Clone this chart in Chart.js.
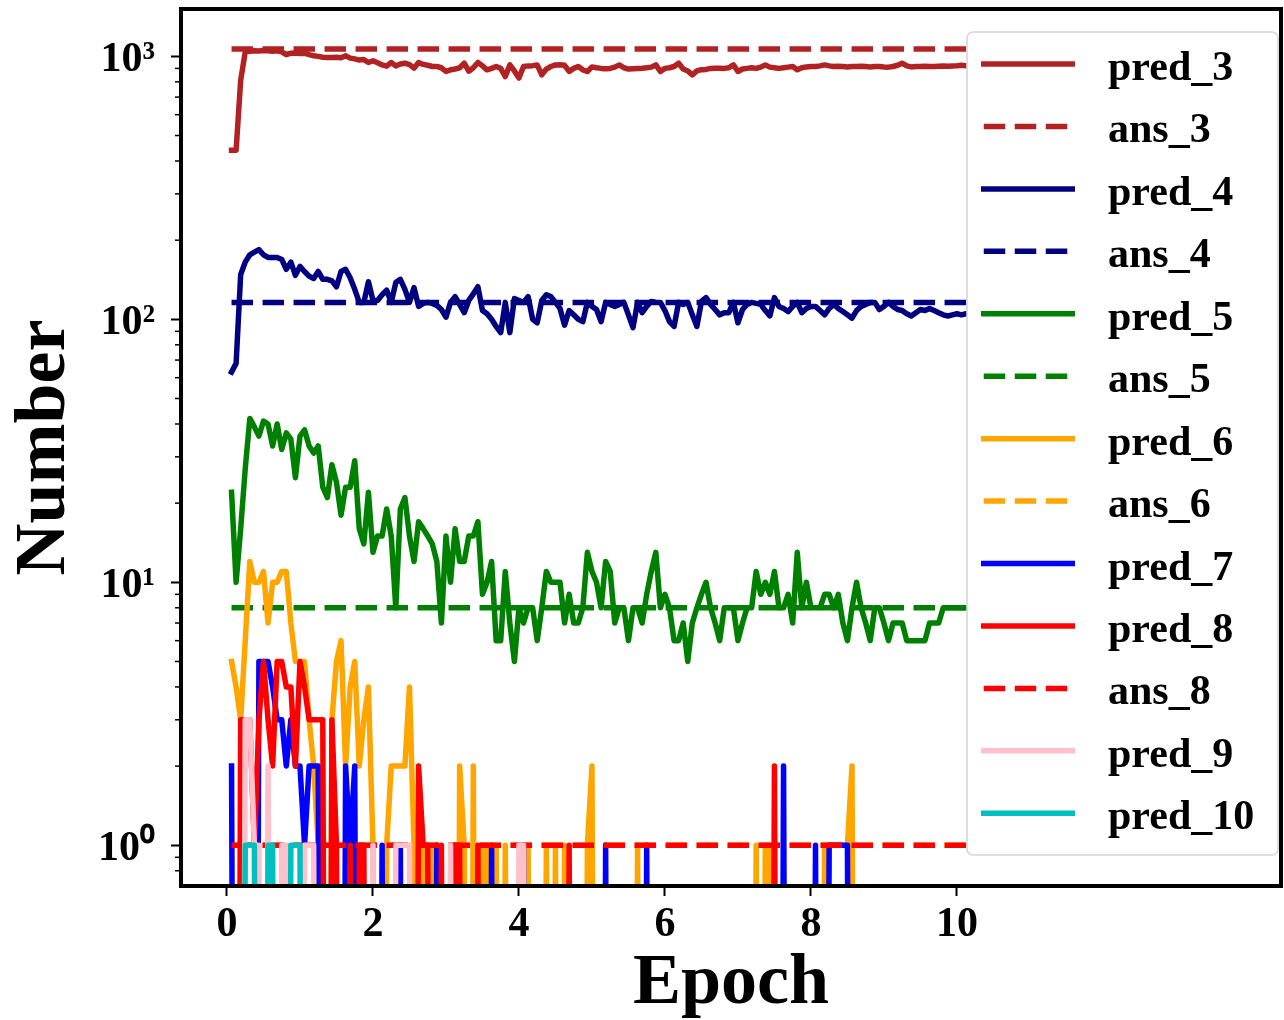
<!DOCTYPE html>
<html>
<head>
<meta charset="utf-8">
<script src="https://cdn.jsdelivr.net/npm/chart.js@4.4.1/dist/chart.umd.min.js"></script>
<style>
  html, body { margin: 0; padding: 0; background: #ffffff; }
  #wrap { width: 1284px; height: 1020px; position: relative; }
  canvas { display: block; }
</style>
</head>
<body>
<div id="wrap"><canvas id="chart" width="1284" height="1020"></canvas></div>
<script>
// ---------------- DATA ----------------
// Sampling step of the training log (epochs between logged points)
const EPOCH_STEP = 0.0625;

// Number of predicted items per class
const pred3 = [
  440, 440, 810, 1040, 1046, 1050, 1048, 1052, 1050, 1046,
  1050, 1040, 1015, 1028, 1030, 1026, 1028, 1015, 1005, 1000,
  992, 990, 990, 992, 988, 1005, 985, 978, 968, 972,
  948, 962, 945, 928, 918, 948, 920, 935, 942, 930,
  902, 948, 932, 925, 915, 915, 905, 876, 889, 895,
  905, 942, 878, 905, 948, 920, 889, 900, 915, 900,
  838, 928, 880, 827, 915, 920, 922, 928, 851, 895,
  915, 928, 930, 925, 876, 900, 915, 889, 876, 912,
  905, 900, 898, 900, 910, 928, 905, 895, 898, 900,
  902, 905, 910, 928, 876, 900, 905, 915, 942, 895,
  880, 851, 880, 890, 892, 900, 902, 902, 900, 905,
  928, 876, 895, 900, 905, 900, 910, 928, 910, 905,
  900, 905, 910, 915, 889, 905, 912, 915, 915, 920,
  928, 920, 915, 918, 915, 912, 915, 915, 918, 915,
  912, 915, 915, 912, 910, 915, 925, 942, 920, 912,
  915, 915, 918, 915, 915, 918, 920, 918, 920, 922,
  925, 922, 925, 925, 925
];
const pred4 = [
  63, 68, 148, 165, 176, 180, 184, 176, 172, 172,
  172, 169, 155, 165, 147, 159, 152, 146, 143, 152,
  142, 142, 140, 133, 152, 155, 144, 130, 116, 116,
  139, 118, 118, 124, 129, 116, 138, 142, 130, 116,
  132, 112, 115, 116, 115, 113, 109, 102, 116, 122,
  114, 106, 118, 125, 133, 108, 105, 100, 94, 89,
  116, 89, 120, 118, 116, 122, 100, 97, 118, 124,
  122, 116, 110, 95, 108, 104, 100, 98, 116, 112,
  109, 98, 116, 114, 112, 114, 116, 104, 93, 116,
  106, 112, 117, 116, 116, 108, 98, 94, 116, 114,
  116, 104, 94, 117, 121, 114, 109, 104, 106, 106,
  116, 97, 109, 114, 116, 115, 114, 108, 103, 121,
  112, 110, 107, 112, 116, 106, 110, 112, 112, 108,
  104, 110, 114, 110, 107, 104, 101, 108, 112, 114,
  116, 116, 109, 112, 116, 112, 109, 108, 105, 103,
  106, 109, 108, 110, 108, 106, 104, 103, 104, 105,
  104, 105, 105, 104, 105
];
const pred5 = [
  22, 10, 16, 27, 42, 39, 36, 41, 40, 33,
  40, 32, 37, 35, 25, 36, 38, 33, 31, 33,
  23, 21, 28, 24, 18, 23, 23, 29, 16, 14,
  22, 13, 15, 15, 19, 15, 8, 19, 21, 15,
  12, 17, 16, 15, 14, 12, 7, 15, 10, 16,
  12, 12, 15, 15, 17, 9, 10, 12, 6, 6,
  11, 7, 5, 8, 7, 8, 8, 6, 8, 11,
  10, 10, 10, 7, 9, 7, 7, 8, 13, 11,
  10, 8, 12, 11, 7, 8, 8, 6, 8, 8,
  7, 9, 11, 13, 8, 9, 8, 6, 6, 7,
  5, 7, 8, 9, 10, 8, 7, 6, 8, 8,
  8, 6, 7, 8, 8, 11, 9, 10, 9, 11,
  8, 8, 9, 7, 13, 8, 10, 8, 8, 8,
  9, 9, 8, 9, 7, 6, 8, 10, 8, 7,
  6, 8, 8, 7, 6, 7, 7, 7, 6, 6,
  6, 6, 6, 7, 7, 7, 8, 8, 8, 8,
  8, 8, 8, 8, 8
];
const pred6 = [
  5, 4, 3, 6, 12, 10, 10, 11, 7, 10,
  10, 11, 11, 7, 5, 5, 5, 3, 2, 1,
  0, 0, 3, 5, 6, 2, 4, 5, 2, 3,
  4, 1, 0, 0, 1, 2, 2, 2, 2, 4,
  1, 0, 1, 0, 1, 0, 0, 0, 0, 0,
  2, 1, 0, 2, 0, 1, 1, 0, 1, 0,
  1, 0, 0, 0, 0, 1, 0, 0, 0, 1,
  0, 1, 0, 1, 0, 0, 0, 0, 1, 2,
  0, 0, 0, 0, 0, 0, 0, 0, 0, 1,
  0, 0, 0, 0, 0, 0, 0, 0, 0, 0,
  0, 0, 0, 0, 0, 0, 0, 0, 0, 0,
  0, 0, 0, 0, 0, 1, 0, 1, 1, 0,
  0, 0, 0, 0, 0, 0, 0, 0, 0, 0,
  1, 1, 1, 1, 1, 1, 2, 0, 0, 0,
  0, 0, 0, 0, 0, 0, 0, 0, 0, 0,
  0, 0, 0, 0, 0, 0, 0, 0, 0, 0,
  0, 0, 0, 0, 0
];
const pred7 = [
  2, 0, 0, 0, 0, 0, 5, 5, 5, 4,
  3, 3, 2, 3, 2, 2, 1, 2, 2, 2,
  0, 0, 0, 0, 0, 2, 1, 2, 0, 0,
  0, 0, 0, 1, 0, 0, 0, 1, 0, 0,
  0, 0, 0, 0, 0, 1, 0, 0, 0, 0,
  0, 0, 0, 0, 0, 0, 0, 1, 0, 0,
  0, 0, 0, 0, 1, 0, 0, 0, 0, 0,
  0, 0, 0, 0, 0, 0, 0, 0, 0, 0,
  0, 0, 1, 0, 0, 0, 0, 0, 0, 0,
  0, 1, 0, 0, 0, 0, 0, 0, 0, 0,
  0, 0, 0, 0, 0, 0, 0, 0, 0, 0,
  0, 0, 0, 0, 0, 0, 0, 0, 0, 0,
  0, 2, 0, 0, 0, 0, 0, 0, 1, 0,
  0, 1, 1, 1, 1, 1, 0, 0, 0, 0,
  0, 0, 0, 0, 0, 0, 0, 0, 0, 0,
  0, 0, 0, 0, 0, 0, 0, 0, 0, 0,
  0, 0, 0, 0, 0
];
const pred8 = [
  0, 0, 3, 3, 3, 1, 3, 5, 3, 2,
  5, 5, 4, 4, 2, 5, 4, 3, 3, 3,
  3, 0, 3, 1, 0, 0, 1, 0, 1, 1,
  0, 0, 0, 0, 0, 0, 0, 0, 0, 0,
  0, 2, 1, 1, 0, 0, 1, 0, 0, 1,
  1, 0, 0, 0, 1, 0, 0, 0, 0, 0,
  0, 0, 0, 0, 0, 0, 0, 0, 0, 0,
  0, 0, 0, 0, 1, 0, 0, 0, 0, 0,
  0, 0, 0, 0, 0, 0, 0, 0, 0, 0,
  0, 0, 0, 0, 0, 0, 0, 0, 0, 0,
  0, 0, 0, 0, 0, 0, 0, 0, 0, 0,
  0, 0, 0, 0, 0, 0, 0, 0, 0, 2,
  0, 0, 0, 0, 0, 0, 0, 0, 0, 0,
  0, 0, 0, 0, 0, 0, 0, 0, 0, 0,
  0, 0, 0, 0, 0, 0, 0, 0, 0, 0,
  0, 0, 0, 0, 0, 0, 0, 0, 0, 0,
  0, 0, 0, 0, 0
];
const pred9 = [
  0, 0, 0, 3, 3, 1, 1, 0, 2, 0,
  0, 1, 1, 0, 0, 0, 1, 1, 1, 0,
  0, 0, 0, 0, 0, 0, 0, 0, 0, 0,
  0, 1, 0, 0, 0, 0, 1, 1, 1, 1,
  0, 0, 0, 0, 0, 0, 0, 0, 1, 0,
  0, 0, 0, 0, 0, 0, 0, 0, 0, 0,
  0, 0, 0, 1, 1, 0, 0, 0, 0, 0,
  0, 0, 0, 0, 0, 0, 0, 0, 0, 0,
  0, 0, 0, 0, 0, 0, 0, 0, 0, 0,
  0, 0, 0, 0, 0, 0, 0, 0, 0, 0,
  0, 0, 0, 0, 0, 0, 0, 0, 0, 0,
  0, 0, 0, 0, 0, 0, 0, 0, 0, 0,
  0, 0, 0, 0, 0, 0, 0, 0, 0, 0,
  0, 0, 0, 0, 0, 0, 0, 0, 0, 0,
  0, 0, 0, 0, 0, 0, 0, 0, 0, 0,
  0, 0, 0, 0, 0, 0, 0, 0, 0, 0,
  0, 0, 0, 0, 0
];
const pred10 = [
  0, 0, 0, 1, 1, 1, 0, 0, 1, 1,
  0, 0, 0, 1, 1, 1, 0, 0, 0, 0,
  0, 0, 0, 0, 0, 0, 0, 0, 0, 0,
  0, 0, 0, 0, 0, 0, 0, 0, 0, 0,
  0, 0, 0, 0, 0, 0, 0, 0, 0, 0,
  0, 0, 0, 0, 0, 0, 0, 0, 0, 0,
  0, 0, 0, 0, 0, 0, 0, 0, 0, 0,
  0, 0, 0, 0, 0, 0, 0, 0, 0, 0,
  0, 0, 0, 0, 0, 0, 0, 0, 0, 0,
  0, 0, 0, 0, 0, 0, 0, 0, 0, 0,
  0, 0, 0, 0, 0, 0, 0, 0, 0, 0,
  0, 0, 0, 0, 0, 0, 0, 0, 0, 0,
  0, 0, 0, 0, 0, 0, 0, 0, 0, 0,
  0, 0, 0, 0, 0, 0, 0, 0, 0, 0,
  0, 0, 0, 0, 0, 0, 0, 0, 0, 0,
  0, 0, 0, 0, 0, 0, 0, 0, 0, 0,
  0, 0, 0, 0, 0
];

// Ground-truth ("ans") reference counts
const ans3 = 1066;
const ans4 = 116;
const ans5 = 8;
const ans6 = 1;
const ans8 = 1;

// Series order (drawing order = legend order), names and colours
const seriesNames  = ['pred_3', 'ans_3', 'pred_4', 'ans_4', 'pred_5', 'ans_5', 'pred_6', 'ans_6', 'pred_7', 'pred_8', 'ans_8', 'pred_9', 'pred_10'];
const seriesValues = [pred3, ans3, pred4, ans4, pred5, ans5, pred6, ans6, pred7, pred8, ans8, pred9, pred10];
const seriesColors = ['#b22222', '#b22222', '#000080', '#000080', '#008000', '#008000', '#ffa500', '#ffa500', '#0000ff', '#ff0000', '#ff0000', '#ffc0cb', '#00bfbf'];
const seriesDashed = [false, true, false, true, false, true, false, true, false, false, true, false, false];

// Axis ticks
const xTicks = [0, 2, 4, 6, 8, 10];
const xTickLabels = ['0', '2', '4', '6', '8', '10'];
const yTicks = [1, 10, 100, 1000];
const yTickLabels = ['10\u2070', '10\u00b9', '10\u00b2', '10\u00b3'];
const yMinorTicks = [0.8, 0.9, 2, 3, 4, 5, 6, 7, 8, 9, 20, 30, 40, 50, 60, 70, 80, 90, 200, 300, 400, 500, 600, 700, 800, 900];
const X_MIN = -0.63, X_MAX = 14.44;
const Y_MIN = 0.711, Y_MAX = 1514;

// ---------------- BUILD ----------------
const FONT = "'Liberation Serif', 'Times New Roman', Times, serif";
const LINE_W = 5.5;
const DASH = [21.5, 9.5];
const ZERO_FLOOR = 1e-4;   // log axis: zero counts fall off the bottom of the plot

const epochs = pred3.map((_, i) => (i + 1) * EPOCH_STEP);

const datasets = seriesNames.map((name, k) => {
  const vals = seriesValues[k];
  let data;
  if (Array.isArray(vals)) {
    data = vals.map((v, i) => ({ x: epochs[i], y: v > 0 ? v : ZERO_FLOOR }));
  } else {
    data = [{ x: epochs[0], y: vals }, { x: epochs[epochs.length - 1], y: vals }];
  }
  return {
    label: name,
    data,
    borderColor: seriesColors[k],
    backgroundColor: seriesColors[k],
    borderWidth: LINE_W,
    borderDash: seriesDashed[k] ? DASH : [],
    borderCapStyle: seriesDashed[k] ? 'butt' : 'square',
    borderJoinStyle: 'round',
    pointRadius: 0,
    pointHoverRadius: 0,
    tension: 0,
    fill: false,
    clip: 0,
    order: seriesNames.length - k
  };
});

const framePlugin = {
  id: 'frame',
  afterDatasetsDraw(chart) {
    const { ctx, chartArea: a, scales } = chart;
    const y = scales.y;
    ctx.save();
    ctx.strokeStyle = '#000';
    ctx.lineWidth = 1.5;
    yMinorTicks.forEach(v => {
      const py = y.getPixelForValue(v);
      if (py < a.top || py > a.bottom) return;
      ctx.beginPath();
      ctx.moveTo(a.left - 6, py);
      ctx.lineTo(a.left, py);
      ctx.stroke();
    });
    ctx.lineWidth = 4;
    ctx.strokeRect(a.left, a.top, a.right - a.left, a.bottom - a.top);
    ctx.restore();
  },
  afterDraw(chart) {
    const { ctx } = chart;
    const L = { x: 967, y: 32, w: 311, h: 823, r: 6, row0: 64, rowStep: 62.44,
                lx0: 983.75, lx1: 1072.25, tx: 1108, dy: 16 };
    ctx.save();
    // box
    ctx.beginPath();
    ctx.moveTo(L.x + L.r, L.y);
    ctx.arcTo(L.x + L.w, L.y, L.x + L.w, L.y + L.h, L.r);
    ctx.arcTo(L.x + L.w, L.y + L.h, L.x, L.y + L.h, L.r);
    ctx.arcTo(L.x, L.y + L.h, L.x, L.y, L.r);
    ctx.arcTo(L.x, L.y, L.x + L.w, L.y, L.r);
    ctx.closePath();
    ctx.fillStyle = 'rgba(255,255,255,1)';
    ctx.fill();
    ctx.strokeStyle = '#d5d5d5';
    ctx.lineWidth = 1.6;
    ctx.stroke();
    // entries
    ctx.font = 'bold 42px ' + FONT;
    ctx.textAlign = 'left';
    ctx.textBaseline = 'alphabetic';
    seriesNames.forEach((name, k) => {
      const yy = L.row0 + k * L.rowStep;
      ctx.strokeStyle = seriesColors[k];
      ctx.lineWidth = LINE_W;
      ctx.setLineDash(seriesDashed[k] ? DASH : []);
      ctx.lineCap = seriesDashed[k] ? 'butt' : 'square';
      ctx.beginPath();
      ctx.moveTo(L.lx0, yy);
      ctx.lineTo(L.lx1, yy);
      ctx.stroke();
      ctx.setLineDash([]);
      ctx.fillStyle = '#000';
      ctx.fillText(name, L.tx, yy + L.dy);
    });
    ctx.restore();
  }
};

new Chart(document.getElementById('chart'), {
  type: 'line',
  data: { datasets },
  plugins: [framePlugin],
  options: {
    responsive: false,
    animation: false,
    devicePixelRatio: 1,
    events: [],
    layout: { padding: { left: 0, top: 9, right: 3, bottom: 0 } },
    plugins: { legend: { display: false }, tooltip: { enabled: false }, title: { display: false } },
    scales: {
      x: {
        type: 'linear',
        min: X_MIN,
        max: X_MAX,
        afterBuildTicks: s => { s.ticks = xTicks.map(v => ({ value: v })); },
        afterFit: s => { s.height = 134; s.paddingLeft = 0; s.paddingRight = 0; },
        ticks: {
          callback: v => xTickLabels[xTicks.indexOf(v)],
          color: '#000',
          font: { family: FONT, size: 42, weight: 'bold' },
          padding: 4,
          maxRotation: 0,
          autoSkip: false
        },
        grid: { display: true, drawOnChartArea: false, drawTicks: true, tickLength: 10, tickWidth: 2, tickColor: '#000' },
        border: { display: false },
        title: {
          display: true,
          text: 'Epoch',
          color: '#000',
          font: { family: FONT, size: 72, weight: 'bold', lineHeight: 1 },
          padding: { top: 0, bottom: 0 }
        }
      },
      y: {
        type: 'logarithmic',
        min: Y_MIN,
        max: Y_MAX,
        afterBuildTicks: s => { s.ticks = yTicks.map(v => ({ value: v, major: true })); },
        afterFit: s => { s.width = 181; s.paddingTop = 0; s.paddingBottom = 0; },
        ticks: {
          callback: v => yTickLabels[yTicks.indexOf(v)],
          color: '#000',
          font: { family: FONT, size: 42, weight: 'bold' },
          padding: 16,
          labelOffset: 4,
          autoSkip: false
        },
        grid: { display: true, drawOnChartArea: false, drawTicks: true, tickLength: 10, tickWidth: 2, tickColor: '#000' },
        border: { display: false },
        title: {
          display: true,
          text: 'Number',
          color: '#000',
          font: { family: FONT, size: 72, weight: 'bold', lineHeight: 1 },
          padding: { top: 9, bottom: 0 }
        }
      }
    }
  }
});
</script>
</body>
</html>
